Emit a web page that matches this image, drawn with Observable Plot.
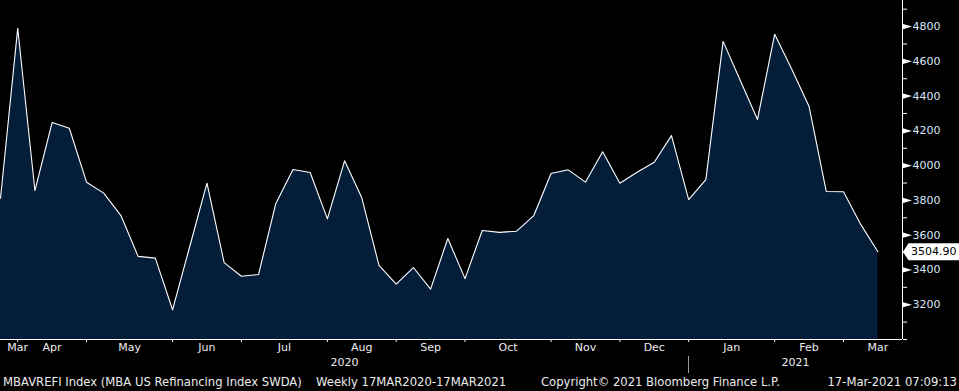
<!DOCTYPE html>
<html><head><meta charset="utf-8">
<script src="https://cdn.jsdelivr.net/npm/d3@7"></script>
<script src="https://cdn.jsdelivr.net/npm/@observablehq/plot@0.6"></script>
<style>
html,body{margin:0;padding:0;background:#000;}
#wrap{position:relative;width:959px;height:391px;overflow:hidden;background:#000;}
#footer{position:absolute;left:0;top:372px;width:959px;height:19px;font-family:"DejaVu Sans";font-size:11.6px;color:#ececec;}
#footer span{position:absolute;top:3px;white-space:pre;line-height:14px;}
</style></head><body>
<div id="wrap"><div id="chart"></div>
<div id="footer"><span id="f1" style="left:3px"></span><span id="f2" style="left:316px"></span><span id="f3" style="left:541px"></span><span id="f4" style="right:2px"></span></div>
</div>
<script>
// Weekly observations (Friday dates)
const dates = ["2020-03-20","2020-03-27","2020-04-03","2020-04-10","2020-04-17","2020-04-24","2020-05-01","2020-05-08","2020-05-15","2020-05-22","2020-05-29","2020-06-05","2020-06-12","2020-06-19","2020-06-26","2020-07-03","2020-07-10","2020-07-17","2020-07-24","2020-07-31","2020-08-07","2020-08-14","2020-08-21","2020-08-28","2020-09-04","2020-09-11","2020-09-18","2020-09-25","2020-10-02","2020-10-09","2020-10-16","2020-10-23","2020-10-30","2020-11-06","2020-11-13","2020-11-20","2020-11-27","2020-12-04","2020-12-11","2020-12-18","2020-12-25","2021-01-01","2021-01-08","2021-01-15","2021-01-22","2021-01-29","2021-02-05","2021-02-12","2021-02-19","2021-02-26","2021-03-05","2021-03-12"];
const values = [3813,4790,3857,4248,4215,3905,3842,3713,3478,3468,3171,3535,3899,3442,3364,3374,3781,3978,3961,3694,4028,3815,3426,3318,3414,3290,3581,3350,3627,3616,3623,3713,3955,3976,3905,4080,3899,3962,4020,4173,3805,3920,4715,4490,4265,4756,4553,4340,3851,3850,3662,3504.9];
const lastLabel = "3504.90";

// Month boundary ticks (last observation of each month)
const monthEnds = ["2020-03-27","2020-04-24","2020-05-29","2020-06-26","2020-07-31","2020-08-28","2020-09-25","2020-10-30","2020-11-27","2020-12-25","2021-01-29","2021-02-26"];
const monthLabels = ["Mar","Apr","May","Jun","Jul","Aug","Sep","Oct","Nov","Dec","Jan","Feb","Mar"];
const monthLabelDates = ["2020-03-27","2020-04-10","2020-05-11T12:00Z","2020-06-12","2020-07-13T12:00Z","2020-08-14","2020-09-11","2020-10-12T12:00Z","2020-11-13","2020-12-11","2021-01-11T12:00Z","2021-02-12","2021-03-12"];
const yearLabels = ["2020","2021"];
const yearLabelDates = ["2020-08-07","2021-02-06T12:00Z"];
const yearBreak = "2020-12-25";

const majorTicks = [3200,3400,3600,3800,4000,4200,4400,4600,4800];
const minorTicks = [3000,3100,3200,3300,3400,3500,3600,3700,3800,3900,4000,4100,4200,4300,4400,4500,4600,4700,4800,4900];

const xDomain = ["2020-03-20","2021-03-22"];
const yDomain = [3000,4950];

const footerLeft = "MBAVREFI Index (MBA US Refinancing Index SWDA)";
const footerRange = "Weekly 17MAR2020-17MAR2021";
const footerCopy = "Copyright\u00A9 2021 Bloomberg Finance L.P.";
const footerTime = "17-Mar-2021 07:09:13";

const rows = dates.map((d,i)=>({date:new Date(d), value:values[i]}));
const last = rows[rows.length-1];

const triRight = {draw(ctx){ctx.moveTo(-4.5,-2.6);ctx.lineTo(4.5,0);ctx.lineTo(-4.5,2.6);ctx.closePath();}};
const tagBox = {draw(ctx){ctx.moveTo(-28.5,0);ctx.lineTo(-23,-8.5);ctx.lineTo(28,-8.5);ctx.lineTo(28,8.5);ctx.lineTo(-23,8.5);ctx.closePath();}};

const plot = Plot.plot({
  width: 959, height: 391,
  marginLeft: 0, marginRight: 57, marginTop: 0, marginBottom: 52,
  style: {background:"#000", color:"#fff", fontFamily:"DejaVu Sans", fontSize:"11px"},
  x: {type:"utc", domain: xDomain.map(d=>new Date(d))},
  y: {domain: yDomain},
  marks: [
    Plot.areaY(rows, {x:"date", y1: yDomain[0], y2:"value", fill:"#041e3a"}),
    Plot.lineY(rows, {x:"date", y:"value", stroke:"#ffffff", strokeWidth:1.1}),
    Plot.ruleY([yDomain[0]], {stroke:"#ffffff"}),
    Plot.ruleX([new Date(xDomain[1])], {stroke:"#ffffff"}),
    Plot.axisX({ticks: monthEnds.map(d=>new Date(d)), tickSize:3, tickFormat:()=>"", stroke:"#ffffff", label:null}),
    Plot.axisY({anchor:"right", ticks: minorTicks, tickSize:4, tickFormat:()=>"", stroke:"#ffffff", label:null}),
    Plot.dot(majorTicks, {y:d=>d, frameAnchor:"right", symbol:triRight, r:3, fill:"#ffffff", stroke:null, dx:5}),
    Plot.text(majorTicks, {y:d=>d, text:d=>String(d), frameAnchor:"right", dx:10, textAnchor:"start", fill:"#d6e6f6"}),
    Plot.text(monthLabels, {x:(d,i)=>new Date(monthLabelDates[i]), text:d=>d, frameAnchor:"bottom", dy:11, fill:"#ececec"}),
    Plot.text(yearLabels, {x:(d,i)=>new Date(yearLabelDates[i]), text:d=>d, frameAnchor:"bottom", dy:26, fill:"#ececec"}),
    Plot.dot([last], {y:"value", frameAnchor:"right", symbol:tagBox, r:3, fill:"#ffffff", stroke:null, dx:29}),
    Plot.text([last], {y:"value", text:()=>lastLabel, frameAnchor:"right", dx:8.5, textAnchor:"start", fill:"#000000"})
  ]
});
document.getElementById("chart").appendChild(plot);

// Year divider below the month labels, positioned via the plot's x scale
const sx = plot.scale("x");
const bx = Math.round(sx.apply(new Date(yearBreak))) + 0.5;
d3.select(plot).append("line")
  .attr("x1", bx).attr("x2", bx).attr("y1", 356).attr("y2", 373)
  .attr("stroke", "#9a9a9a").attr("stroke-width", 1);

document.getElementById("f1").textContent = footerLeft;
document.getElementById("f2").textContent = footerRange;
document.getElementById("f3").textContent = footerCopy;
document.getElementById("f4").textContent = footerTime;
</script>
</body></html>
